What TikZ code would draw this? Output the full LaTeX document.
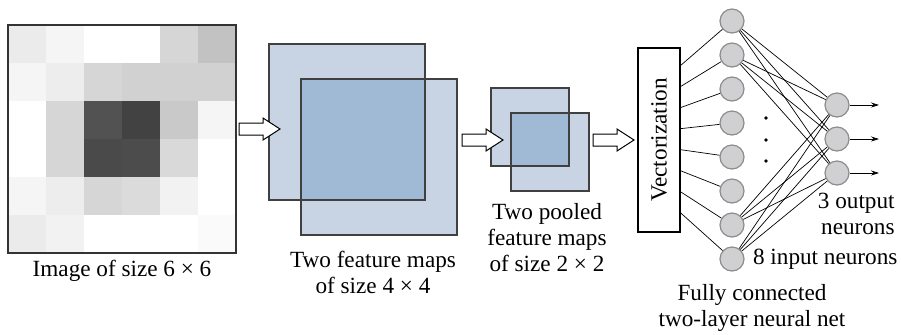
\documentclass[tikz,border=0pt]{standalone}
\usepackage{fontspec}
\setmainfont{Liberation Serif}
\usetikzlibrary{arrows.meta}

\definecolor{mapblue}{RGB}{200,212,228}
\definecolor{mapdark}{RGB}{160,185,212}
\definecolor{neurongray}{RGB}{208,208,210}

\begin{document}
\begin{tikzpicture}[x=0.5pt, y=-0.5pt, font=\fontsize{11.6}{13}\selectfont,
    neuron/.style={circle, draw=black!45, line width=0.6pt, fill=neurongray, minimum size=12pt, inner sep=0pt},
    mapedge/.style={draw=black!75, line width=0.6pt},
    vecbox/.style={draw, line width=0.6pt, minimum width=92pt, minimum height=21pt, inner sep=0pt},
    wire/.style={line width=0.35pt},
    hollowarrow/.pic={\draw[fill=white, line width=0.5pt] (0,-6) -- (24,-6) -- (24,-11) -- (41,0) -- (24,11) -- (24,6) -- (0,6) -- cycle;}]
    \useasboundingbox (0,0) rectangle (901,334);
    \foreach \row [count=\r from 0] in {{8,4,0,0,16,24},{4,7,16,18,18,18},{0,16,68,74,21,4},{0,16,71,70,15,0},{4,7,16,14,5,0},{8,5,0,0,0,2}}
        \foreach \v [count=\c from 0] in \row
            \fill[black!\v] ({8+38*\c},{25+38*\r}) rectangle ++(38,38);
    \draw[line width=1pt, black!80] (8,25) rectangle (236,253);
    \node (imglabel) at (122,271) {Image of size 6 × 6};
    \fill[mapblue] (269,44) rectangle (425,200);
    \fill[mapblue] (301,79) rectangle (457,235);
    \fill[mapdark] (301,79) rectangle (425,200);
    \draw[mapedge] (269,44) rectangle (425,200);
    \draw[mapedge] (301,79) rectangle (457,235);
    \node[align=center] (fmlabel) at (373,272) {Two feature maps\\of size 4 × 4};
    \fill[mapblue] (491,88) rectangle (569,166);
    \fill[mapblue] (511,113) rectangle (589,191);
    \fill[mapdark] (511,113) rectangle (569,166);
    \draw[mapedge] (491,88) rectangle (569,166);
    \draw[mapedge] (511,113) rectangle (589,191);
    \node[align=center] (poollabel) at (547,238) {Two pooled\\feature maps\\of size 2 × 2};
    \pic (arrA) at (239,129) {hollowarrow};
    \pic (arrB) at (462,140) {hollowarrow};
    \pic (arrC) at (593,140) {hollowarrow};
    \node[vecbox, rotate=90] (vec) at (659,140) {Vectorization};
    \foreach \i in {1,...,8} {
        \coordinate (v\i) at (680,{66+20.9*(\i-1)});
        \node[neuron] (in\i) at (732,{21+34*(\i-1)}) {};
    }
    \foreach \j in {1,2,3} {
        \node[neuron] (out\j) at (837,{105+34*(\j-1)}) {};
        \coordinate (o\j) at (879,{105+34*(\j-1)});
    }
    \foreach \i in {1,...,8} \draw[wire] (v\i) -- (in\i);
    \foreach \i in {1,2,7,8} \foreach \j in {1,2,3} \draw[wire] (in\i) -- (out\j);
    \foreach \j in {1,2,3} \draw[wire, -{Stealth[length=4pt, width=2.5pt]}] (out\j) -- (o\j);
    \foreach \y in {118,140,161} \fill (766,\y) circle (0.9pt);
    \node[align=right, anchor=east, inner sep=1pt] (outlabel) at (897,214) {3 output\\neurons};
    \node[anchor=west] (inlabel) at (746,259) {8 input neurons};
    \node[align=center] (fclabel) at (752,308) {Fully connected\\two-layer neural net};
\end{tikzpicture}
\end{document}
